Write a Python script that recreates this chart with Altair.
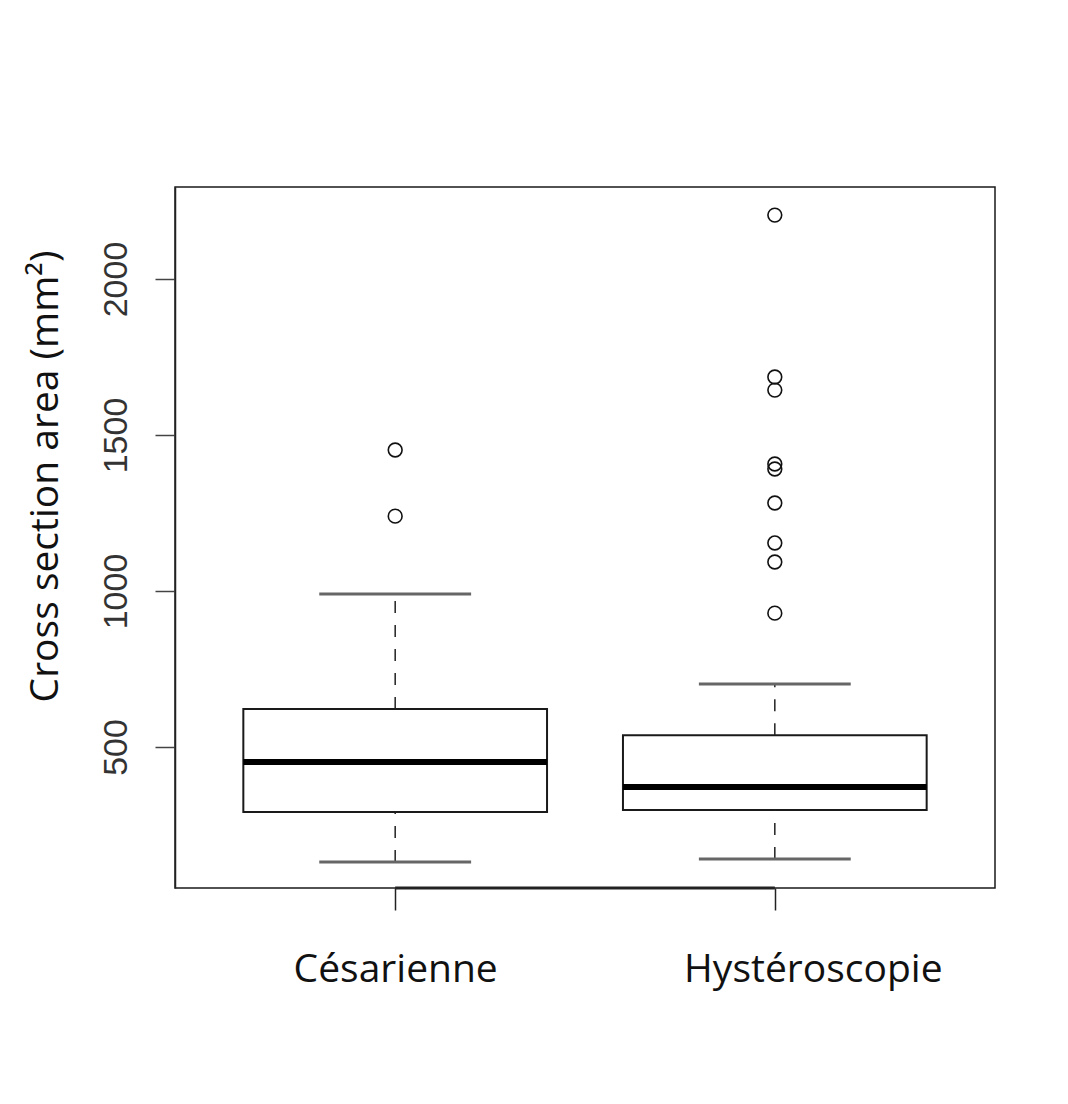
import altair as alt
import pandas as pd

# ---- data ----
GROUPS = ["Césarienne", "Hystéroscopie"]
POS = [1, 2]
Q1 = [292, 298]
MEDIAN = [452, 372]
Q3 = [622, 538]
WHISK_LO = [131, 141]
WHISK_HI = [990, 702]

OUT_POS = [1, 1, 2, 2, 2, 2, 2, 2, 2, 2, 2]
OUT_VAL = [1452, 1240, 2205, 1686, 1644, 1407, 1391, 1282, 1154, 1093, 929]

Y_TICKS = [500, 1000, 1500, 2000]
Y_DOMAIN = [48, 2295]
X_DOMAIN = [0.42, 2.58]

box = pd.DataFrame({
    "group": GROUPS, "pos": POS, "q1": Q1, "med": MEDIAN, "q3": Q3,
    "lo": WHISK_LO, "hi": WHISK_HI,
})
out = pd.DataFrame({"pos": OUT_POS, "val": OUT_VAL})

xs = alt.Scale(domain=X_DOMAIN, nice=False, zero=False)
ys = alt.Scale(domain=Y_DOMAIN, nice=False, zero=False)

XAXIS = alt.Axis(values=POS, grid=False, domain=False,
                 tickSize=22, tickWidth=1.5, tickColor="#222",
                 labelExpr="datum.value == 1 ? 'Césarienne' : 'Hystéroscopie'",
                 labelFont="Open Sans", labelFontSize=39, labelColor="#111",
                 labelPadding=40, labelFlush=False, labelLimit=600,
                 labelOffset={"condition": {"test": "datum.value == 2", "value": 38}, "value": 0},
                 labelOverlap=False, title=None)
YAXIS = alt.Axis(values=Y_TICKS, format="d", grid=False, domain=True,
                 domainColor="#222", domainWidth=1.5,
                 tickSize=20, tickWidth=1.5, tickColor="#444",
                 labelAngle=270, labelAlign="center", labelBaseline="bottom",
                 labelFont="Liberation Sans", labelFontSize=34,
                 labelColor="#333", labelPadding=22, labelOverlap=False,
                 title="Cross section area (mm²)",
                 titleFont="Open Sans", titleFontSize=39,
                 titleFontWeight="normal", titleColor="#111",
                 titleAngle=270, titleAlign="center", titleBaseline="middle",
                 titleX=-130, titleY=289)

base = alt.Chart(box).transform_calculate(
    left="datum.pos - 0.4", right="datum.pos + 0.4",
    capl="datum.pos - 0.2", capr="datum.pos + 0.2",
)

boxes = base.mark_rect(fill="white", stroke="#1a1a1a", strokeWidth=2).encode(
    x=alt.X("left:Q", scale=xs, axis=XAXIS), x2="right:Q",
    y=alt.Y("q1:Q", scale=ys, axis=YAXIS), y2="q3:Q",
)

medians = base.mark_rule(color="black", strokeWidth=6).encode(
    x=alt.X("left:Q", scale=xs, axis=XAXIS), x2="right:Q",
    y=alt.Y("med:Q", scale=ys, axis=YAXIS),
)

whisk_up = base.mark_rule(color="#222", strokeWidth=1.5, strokeDash=[12, 12]).encode(
    x=alt.X("pos:Q", scale=xs, axis=XAXIS),
    y=alt.Y("q3:Q", scale=ys, axis=YAXIS), y2="hi:Q",
)
whisk_dn = base.mark_rule(color="#222", strokeWidth=1.5, strokeDash=[12, 12]).encode(
    x=alt.X("pos:Q", scale=xs, axis=XAXIS),
    y=alt.Y("lo:Q", scale=ys, axis=YAXIS), y2="q1:Q",
)
cap_hi = base.mark_rule(color="#666", strokeWidth=3).encode(
    x=alt.X("capl:Q", scale=xs, axis=XAXIS), x2="capr:Q",
    y=alt.Y("hi:Q", scale=ys, axis=YAXIS),
)
cap_lo = base.mark_rule(color="#666", strokeWidth=3).encode(
    x=alt.X("capl:Q", scale=xs, axis=XAXIS), x2="capr:Q",
    y=alt.Y("lo:Q", scale=ys, axis=YAXIS),
)

points = alt.Chart(out).mark_point(shape="circle", filled=False, color="#111",
                                   strokeWidth=1.6, size=190, opacity=1).encode(
    x=alt.X("pos:Q", scale=xs, axis=XAXIS),
    y=alt.Y("val:Q", scale=ys, axis=YAXIS),
)

axis_line = alt.Chart(pd.DataFrame({"a": [POS[0]], "b": [POS[1]], "y": [Y_DOMAIN[0]]})).mark_rule(
    color="#222", strokeWidth=3).encode(
    x=alt.X("a:Q", scale=xs, axis=XAXIS), x2="b:Q",
    y=alt.Y("y:Q", scale=ys, axis=YAXIS),
)

chart = alt.layer(boxes, whisk_up, whisk_dn, cap_hi, cap_lo, medians, points, axis_line).properties(
    width=820, height=701,
    background="white",
    autosize=alt.AutoSizeParams(type="none"),
    padding={"left": 167, "top": 179, "right": 60, "bottom": 200},
).configure_view(stroke="#1a1a1a", strokeWidth=1.5)

chart.save("out.html", embed_options={"renderer": "svg", "actions": False})
